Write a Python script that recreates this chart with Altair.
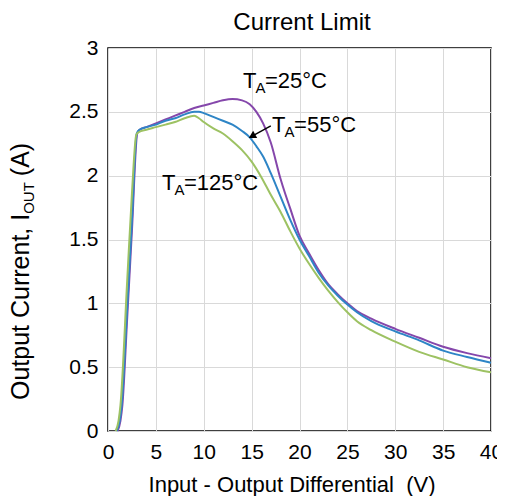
import altair as alt
import pandas as pd

# ---- data ----
x_25 = [1.0, 1.3, 1.5, 2.0, 2.5, 3.05, 3.3, 4, 5, 6, 7, 8, 9, 10, 11, 12, 13, 14, 14.8, 15.5, 16.2, 17, 18, 18.5, 19, 20, 21, 22, 23, 24, 25, 26, 27.5, 30, 32.5, 35, 37.5, 40]
y_25 = [0.0, 0.08, 0.2, 0.88, 1.57, 2.33, 2.36, 2.38, 2.41, 2.44, 2.47, 2.50, 2.53, 2.55, 2.57, 2.59, 2.60, 2.59, 2.56, 2.50, 2.41, 2.26, 1.98, 1.86, 1.75, 1.53, 1.39, 1.26, 1.15, 1.07, 1.00, 0.94, 0.88, 0.80, 0.73, 0.66, 0.61, 0.57]

x_55 = [0.9, 1.2, 1.4, 2.0, 2.5, 3.0, 3.3, 4, 5, 6, 7, 8, 9, 9.5, 10, 11, 12, 13, 14, 14.8, 15.5, 16.2, 17, 18, 19, 20, 21, 22, 23, 24, 25, 26, 27.5, 30, 32.5, 35, 37.5, 40]
y_55 = [0.0, 0.07, 0.18, 0.96, 1.65, 2.33, 2.36, 2.38, 2.40, 2.43, 2.45, 2.48, 2.50, 2.50, 2.49, 2.46, 2.43, 2.40, 2.35, 2.30, 2.23, 2.15, 2.02, 1.84, 1.66, 1.50, 1.37, 1.24, 1.14, 1.06, 0.99, 0.93, 0.86, 0.78, 0.71, 0.63, 0.58, 0.535]

x_125 = [0.8, 1.1, 1.3, 2.0, 2.5, 2.95, 3.2, 4, 5, 6, 7, 8, 9, 9.5, 10, 11, 12, 13, 14, 15, 16, 17, 18, 19, 20, 21, 22, 23, 24, 25, 26, 27.5, 30, 32.5, 35, 37.5, 40]
y_125 = [0.0, 0.08, 0.2, 1.17, 1.86, 2.32, 2.34, 2.36, 2.38, 2.40, 2.42, 2.45, 2.47, 2.45, 2.42, 2.37, 2.33, 2.27, 2.20, 2.11, 1.99, 1.85, 1.72, 1.57, 1.43, 1.31, 1.20, 1.10, 1.01, 0.93, 0.86, 0.79, 0.70, 0.62, 0.56, 0.50, 0.46]

series_names = ["25", "125", "55"]
series_colors = ["#8547ab", "#9dc263", "#2e85c6"]

x_grid = [i * 2.5 for i in range(17)]
y_ticks = [0, 0.5, 1, 1.5, 2, 2.5, 3]

# annotation labels: anchor (data coords), main text after subscript
ann_names = ["25", "55", "125"]
ann_x = [14.1, 17.14, 5.64]
ann_y = [2.69, 2.34, 1.89]
ann_rest = ["=25°C", "=55°C", "=125°C"]

# arrow from label 55 to its curve
arrow_x = [17.0, 15.15]
arrow_y = [2.39, 2.314]

FONT = "Liberation Sans"

rows = []
for name, xs, ys in [("25", x_25, y_25), ("55", x_55, y_55), ("125", x_125, y_125)]:
    rows += [{"x": a, "y": b, "series": name} for a, b in zip(xs, ys)]
df = pd.DataFrame(rows)

ann = pd.DataFrame({"x": ann_x, "y": ann_y, "T": ["T"] * 3, "A": ["A"] * 3, "rest": ann_rest})
arrow = pd.DataFrame({"x": [arrow_x[0]], "y": [arrow_y[0]], "x2": [arrow_x[1]], "y2": [arrow_y[1]]})
head = pd.DataFrame({"x": [arrow_x[1]], "y": [arrow_y[1]]})

xscale = alt.Scale(domain=[0, 40], nice=False, zero=False)
yscale = alt.Scale(domain=[0, 3], nice=False)

lines = alt.Chart(df).mark_line(strokeWidth=2, interpolate="monotone").encode(
    x=alt.X("x:Q", scale=xscale, axis=alt.Axis(
        values=x_grid, labelExpr="datum.value % 5 == 0 ? datum.label : ''",
        title=None, labelOverlap=False, labelFlush=False)),
    y=alt.Y("y:Q", scale=yscale, axis=alt.Axis(
        values=y_ticks, format="~g", title=None, labelOverlap=False, labelFlush=False)),
    color=alt.Color("series:N", scale=alt.Scale(domain=series_names, range=series_colors), legend=None),
    detail="series:N",
    order=alt.Order("x:Q"),
)

AF = 22
t_main = alt.Chart(ann).mark_text(align="left", baseline="alphabetic", fontSize=AF, font=FONT, color="black").encode(
    x=alt.X("x:Q", scale=xscale), y=alt.Y("y:Q", scale=yscale), text="T:N")
t_sub = alt.Chart(ann).mark_text(align="left", baseline="alphabetic", fontSize=15, font=FONT, color="black", dx=12.5, dy=5).encode(
    x=alt.X("x:Q", scale=xscale), y=alt.Y("y:Q", scale=yscale), text="A:N")
t_rest = alt.Chart(ann).mark_text(align="left", baseline="alphabetic", fontSize=AF, font=FONT, color="black", dx=22).encode(
    x=alt.X("x:Q", scale=xscale), y=alt.Y("y:Q", scale=yscale), text="rest:N")

arr = alt.Chart(arrow).mark_rule(color="black", strokeWidth=1.5).encode(
    x=alt.X("x:Q", scale=xscale), y=alt.Y("y:Q", scale=yscale), x2="x2:Q", y2="y2:Q")
arrhead = alt.Chart(head).mark_point(shape="triangle", filled=True, color="black", size=70, angle=241, opacity=1).encode(
    x=alt.X("x:Q", scale=xscale), y=alt.Y("y:Q", scale=yscale))

# titles drawn as text so the subscript can be kept
title_df = pd.DataFrame({"t": ["Current Limit"]})
title = alt.Chart(title_df).mark_text(align="center", baseline="alphabetic", fontSize=24, font=FONT, color="black").encode(
    x=alt.value(194), y=alt.value(-18), text="t:N")
xt_df = pd.DataFrame({"t": ["Input - Output Differential\u00a0 (V)"]})
xtitle = alt.Chart(xt_df).mark_text(align="center", baseline="alphabetic", fontSize=22, font=FONT, color="black").encode(
    x=alt.value(184), y=alt.value(444), text="t:N")

yt_df = pd.DataFrame({"a": ["Output Current, I"], "b": ["OUT"], "c": ["(A)"]})
YF = 25
SF = 15
w1 = 7.448 * YF
wsub = 2.111 * SF
YX = -79
yt1 = alt.Chart(yt_df).mark_text(align="left", baseline="alphabetic", fontSize=YF, font=FONT, color="black", angle=270).encode(
    x=alt.value(YX), y=alt.value(352), text="a:N")
yt2 = alt.Chart(yt_df).mark_text(align="left", baseline="alphabetic", fontSize=SF, font=FONT, color="black", angle=270, dx=w1, dy=5).encode(
    x=alt.value(YX), y=alt.value(352), text="b:N")
yt3 = alt.Chart(yt_df).mark_text(align="left", baseline="alphabetic", fontSize=YF, font=FONT, color="black", angle=270, dx=w1 + wsub + 6).encode(
    x=alt.value(YX), y=alt.value(352), text="c:N")

chart = alt.layer(lines, t_main, t_sub, t_rest, arr, arrhead, title, xtitle, yt1, yt2, yt3).properties(
    width=383, height=383,
    autosize=alt.AutoSizeParams(type="none"),
    padding={"left": 100, "top": 40, "right": 6, "bottom": 65},
).configure_view(
    stroke="black", strokeWidth=1.5
).configure_axis(
    domain=False, ticks=False, grid=True, gridColor="#d9d9d9", gridWidth=1,
    labelFont=FONT, labelFontSize=21, labelColor="black", labelPadding=10,
)

chart.save("out.html", embed_options={"renderer": "svg", "actions": False})
